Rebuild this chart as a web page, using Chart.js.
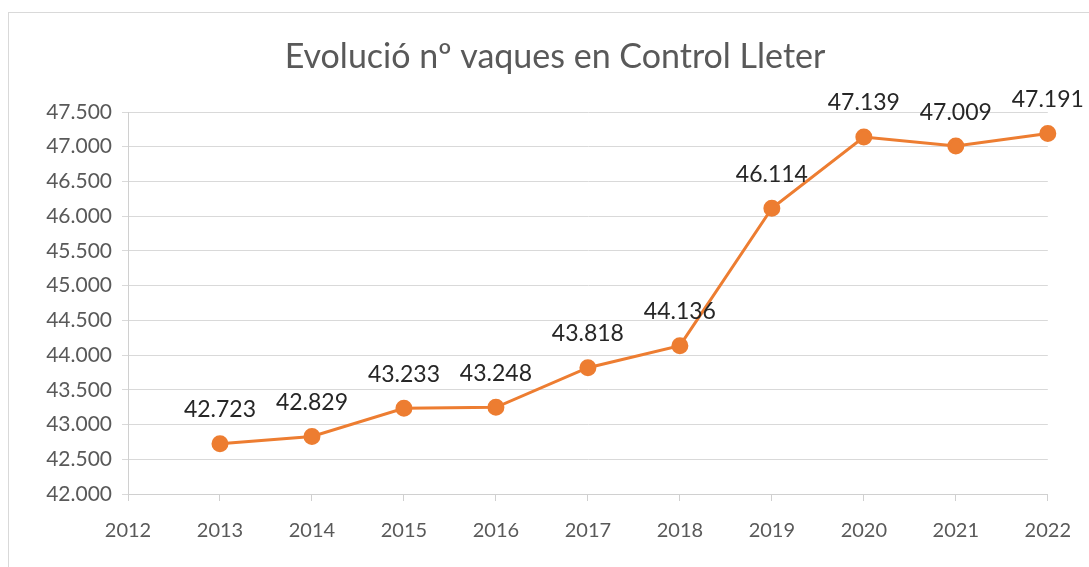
<!DOCTYPE html>
<html>
<head>
<meta charset="utf-8">
<script src="https://cdn.jsdelivr.net/npm/chart.js@4.4.1/dist/chart.umd.min.js"></script>
<style>
  html, body { margin: 0; padding: 0; background: #fff; overflow: hidden; }
  #frame { position: absolute; left: 8px; top: 12px; width: 1300px; height: 800px; border: 1px solid #d9d9d9; box-sizing: border-box; }
  #wrap { position: absolute; left: 0; top: 0; width: 1089px; height: 567px; }
</style>
</head>
<body>
<div id="frame"></div>
<div id="wrap"><canvas id="chart"></canvas></div>
<script>
const years = [2013, 2014, 2015, 2016, 2017, 2018, 2019, 2020, 2021, 2022];
const cows = [42723, 42829, 43233, 43248, 43818, 44136, 46114, 47139, 47009, 47191];
const chartTitle = 'Evolució nº vaques en Control Lleter';

const fmt = v => String(v).replace(/\B(?=(\d{3})+(?!\d))/g, '.');
const FONT = 'Lato, "Open Sans", sans-serif';

// draws the value above each point
const valueLabels = {
    id: 'valueLabels',
    afterDatasetsDraw(chart) {
        const ctx = chart.ctx;
        const meta = chart.getDatasetMeta(0);
        ctx.save();
        ctx.font = '23px ' + FONT;
        ctx.fillStyle = '#262626';
        ctx.textAlign = 'center';
        ctx.textBaseline = 'middle';
        meta.data.forEach((pt, i) => {
            ctx.fillText(fmt(cows[i]), pt.x, pt.y - 34);
        });
        ctx.restore();
    }
};

// title drawn centred over the canvas
const titleText = {
    id: 'titleText',
    afterDraw(chart) {
        const ctx = chart.ctx;
        ctx.save();
        ctx.font = '34px ' + FONT;
        ctx.fillStyle = '#595959';
        ctx.textAlign = 'center';
        ctx.textBaseline = 'middle';
        ctx.fillText(chartTitle, 555, 57);
        ctx.restore();
    }
};

new Chart(document.getElementById('chart'), {
    type: 'line',
    data: {
        datasets: [{
            data: years.map((y, i) => ({x: y, y: cows[i]})),
            borderColor: '#ed7d31',
            backgroundColor: '#ed7d31',
            borderWidth: 3,
            pointRadius: 7,
            pointHoverRadius: 7,
            tension: 0,
            clip: false
        }]
    },
    options: {
        responsive: true,
        maintainAspectRatio: false,
        animation: false,
        layout: {padding: {top: 112, right: 41, left: 0, bottom: 0}},
        scales: {
            x: {
                type: 'linear',
                min: 2012, max: 2022,
                afterFit: s => { s.height = 73; },
                ticks: {stepSize: 1, padding: 18, color: '#595959', font: {family: FONT, size: 20},
                        callback: v => String(v)},
                grid: {drawOnChartArea: false, drawTicks: true, tickLength: 7, color: '#d0d0d0'},
                border: {color: '#d0d0d0', width: 1}
            },
            y: {
                min: 42000, max: 47500,
                afterFit: s => { s.width = 128; },
                ticks: {stepSize: 500, padding: 10, color: '#595959', font: {family: FONT, size: 21},
                        callback: v => fmt(v)},
                grid: {color: '#d9d9d9', tickLength: 6},
                border: {color: '#d0d0d0', width: 1}
            }
        },
        plugins: {
            legend: {display: false},
            title: {display: false},
            tooltip: {enabled: false}
        }
    },
    plugins: [valueLabels, titleText]
});
</script>
</body>
</html>
